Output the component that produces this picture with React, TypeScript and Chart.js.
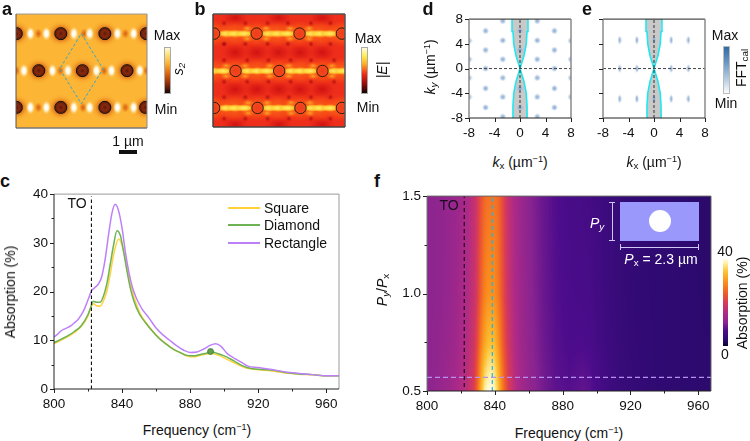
import React, { useEffect, useRef } from "react";
import { Chart, registerables } from "chart.js";
Chart.register(...registerables);

const FONT = '"Liberation Sans", Arial, sans-serif';

// ---------- panel c ----------
const rectF = [800,802,804,806,808,810,812,814,816,818,820,822,824,826,828,830,832,834,836,838,840,842,844,846,848,850,852,856,860,864,868,872,876,880,884,888,892,895,898,902,906,910,914,920,928,936,944,952,960,968];
const rectV = [10.7,11.2,11.9,12.3,12.6,13,13.6,14.2,15.2,16.5,18.3,20.1,20.8,21.5,23,26.5,31.5,36,37.9,36.5,33,28,24,21,19,17.5,16.3,14.5,12.5,11.1,10,8.9,8,7.5,7.6,8.2,9,9.3,8.8,7.2,6.3,5.5,4.7,4.4,4,3.5,3.2,2.95,2.7,2.7];
const diamF = [800,804,808,812,816,820,822,823,825,827,829,831,833,835,837,839,841,843,845,847,850,854,858,862,866,870,874,878,882,886,890,893,896,900,904,908,912,916,922,928,936,944,952,960,968];
const diamV = [9.5,10.2,10.9,11.8,13,15.3,17.2,18,17.8,17.8,19,21.5,25.5,29.5,32.5,31.5,28,24,20.5,18,15.5,13.5,11.8,10.3,9.2,8.2,7.5,6.9,6.8,7.1,7.4,7.6,7.3,6.8,6.1,5.3,4.6,4.2,4,3.9,3.4,3.1,2.95,2.7,2.7];
const squaF = [800,804,808,812,816,820,822,823,825,827,829,831,833,835,838,840,842,844,846,848,851,855,859,863,867,871,875,879,882,886,890,893,896,900,904,908,912,916,922,928,936,944,952,960,968];
const squaV = [9.3,10,10.7,11.6,12.8,15,17,17.5,17.1,17,18,20,23.5,27.5,30.8,29.5,26.5,23,20,17.8,15.2,13.2,11.5,10.1,9,8,7.3,6.7,6.6,6.9,7.2,7.3,7,6.4,5.7,5,4.4,4.1,3.9,3.7,3.3,3.05,2.9,2.7,2.7];
const markerF = [892];
const markerV = [7.7];
const toFreq = [822, 822];
const toC = [0, 39.5];

// ---------- panel f ----------
const freqF = [800,808,816,820,824,828,830,832,834,836,838,840,842,844,846,848,852,856,860,868,876,884,892,896,900,908,916,924,936,948,960,968];
const ratios = [0.5, 0.6, 0.75, 1.0, 1.5];
const r050 = [11,12.2,14,15.5,17,21,26.5,33,38,40,40,38.5,34.5,29,24.5,20.5,16,13.6,12,9.6,8,7.5,8.3,7.8,6.6,5.1,4.2,3.8,3.2,2.9,2.7,2.7];
const r060 = [11,12,13.5,15,16.5,20,25,31,35.5,37.5,38,36.5,33,28,23.5,20,15.8,13.4,11.8,9.5,7.8,7.2,7.8,7.4,6.4,5,4.1,3.7,3.2,2.9,2.7,2.7];
const r075 = [11,11.8,13,14.5,16,19,23,28,31.5,33.5,34,33,30,26,22,19,15.2,13,11.5,9.2,7.6,6.8,6.9,6.6,5.9,4.8,4,3.6,3.1,2.9,2.7,2.7];
const r100 = [11,11.5,12.8,14,15.5,18,21,25,28,29.5,29.5,29,27,24,20.5,18,14.8,12.8,11.2,9,7.4,6.6,6.4,6.2,5.6,4.6,3.9,3.5,3.1,2.9,2.7,2.6];
const r150 = [11,11.5,12.5,13.5,15,17.5,20,23,25.5,26.5,26.5,26.5,25.5,23,20,17.5,14.5,12.5,11,8.8,7.2,6.4,6.1,5.9,5.4,4.5,3.8,3.4,3,2.8,2.6,2.6];
const heatRows = [r050, r060, r075, r100, r150];
const magmaPos = [0,0.07,0.175,0.27,0.38,0.5,0.6,0.72,0.85,0.95,1];
const magmaCol = ["#0a0530","#2d0a70","#4d0c8c","#8a2490","#b02a86","#d83a58","#ee5a2c","#f98a1c","#fdc030","#fff0a0","#fffde8"];

// ---------- panel a (µm) ----------
const aHoleX = [0.02,2.42,4.8,7.05,1.23,3.59,6.0,0.02,2.42,4.8,7.0];
const aHoleY = [1.06,1.06,1.06,1.06,3.06,3.06,3.06,5.05,5.05,5.05,5.05];
const aBrightX = [0.78,1.64,3.13,3.98,5.48,6.36,0.43,1.97,2.81,4.35,5.16,6.69,0.78,1.64,3.13,3.98,5.48,6.36];
const aBrightY = [1.06,1.06,1.06,1.06,1.06,1.06,3.06,3.06,3.06,3.06,3.06,3.06,5.05,5.05,5.05,5.05,5.05,5.05];
const aSpotX = [1.21,3.68,5.91,0.02,2.4,4.76,7.05,1.21,3.62,5.91];
const aSpotY = [1.06,1.06,1.06,3.06,3.06,3.06,3.06,5.05,5.05,5.05];
const aDiamX = [3.53,4.7,3.53,2.36,3.53];
const aDiamY = [1.06,2.97,4.85,2.97,1.06];

// ---------- panel b (µm) ----------
const bHoleX = [0.06,2.36,4.68,6.97,1.22,3.58,5.92,0.06,2.41,4.73,6.97];
const bHoleY = [1.06,1.06,1.06,1.06,3.08,3.08,3.08,5.08,5.08,5.08,5.08];
const bGlowX = [0.72,1.2,1.7,3.02,3.5,4.02,5.32,5.8,6.32, 0.0,0.55,1.88,2.4,2.92,4.25,4.75,5.25,6.58,7.05, 0.72,1.2,1.7,3.05,3.55,4.05,5.35,5.8,6.32];
const bGlowY = [1.06,1.06,1.06,1.06,1.06,1.06,1.06,1.06,1.06, 3.08,3.08,3.08,3.08,3.08,3.08,3.08,3.08,3.08,3.08, 5.08,5.08,5.08,5.08,5.08,5.08,5.08,5.08,5.08];
const bSplayX = [1.85,2.87,1.85,2.87,4.17,5.19,4.17,5.19, 0.71,1.73,0.71,1.73,3.07,4.09,3.07,4.09,5.41,6.43,5.41,6.43, 1.9,2.92,1.9,2.92,4.22,5.24,4.22,5.24];
const bSplayY = [0.78,0.78,1.34,1.34,0.78,0.78,1.34,1.34, 2.8,2.8,3.36,3.36,2.8,2.8,3.36,3.36,2.8,2.8,3.36,3.36, 4.8,4.8,5.36,5.36,4.8,4.8,5.36,5.36];
const bBandX = [0,1.2,2.36,3.5,4.68,5.8,7, 0,1.2,2.4,3.58,4.75,5.92,7, 0,1.2,2.4,3.5,4.7,5.8,7];
const bBandY = [1.06,1.06,1.06,1.06,1.06,1.06,1.06, 3.08,3.08,3.08,3.08,3.08,3.08,3.08, 5.08,5.08,5.08,5.08,5.08,5.08,5.08];
const bDarkX = [1.2,2.36,3.55,4.7,5.9, 1.2,2.36,3.55,4.7,5.9, 1.2,3.55,5.9, 1.2,3.55,5.9];
const bDarkY = [2.08,2.08,2.08,2.08,2.08, 4.08,4.08,4.08,4.08,4.08, 0.2,0.2,0.2, 6.0,6.0,6.0];
const bTinyX = [1.75,2.95,4.05,5.3,6.35,0.6,0.6,1.75,2.95,4.05,5.3,6.35,0.6, 0.6,1.85,3,4.2,5.3,6.55,0.6,1.85,3,4.2,5.3,6.55, 1.75,2.95,4.1,5.3,6.35,0.6,1.75,2.95,4.1,5.3,6.35,0.6];
const bTinyY = [0.5,0.5,0.5,0.5,0.5,0.5,1.62,1.62,1.62,1.62,1.62,1.62,1.62, 2.5,2.5,2.5,2.5,2.5,2.5,3.66,3.66,3.66,3.66,3.66,3.66, 4.5,4.5,4.5,4.5,4.5,4.5,5.66,5.66,5.66,5.66,5.66,5.66];

// ---------- panels d, e (µm⁻¹) ----------
const dSpotX = [-5.4,-5.4,-5.4,-5.4,-5.4, 5.4,5.4,5.4,5.4,5.4, 0,0,0,0, -2.7,-2.7,-2.7,-2.7,-2.7,-2.7, 2.7,2.7,2.7,2.7,2.7,2.7, -8,-8,-8,-8,8,8,8,8];
const dSpotY = [6.1,3,0,-3.2,-6.3, 6.1,3,0,-3.2,-6.3, 6.1,3,-3.2,-6.3, 7.7,4.55,1.5,-1.5,-4.6,-7.8, 7.7,4.55,1.5,-1.5,-4.6,-7.8, 4.5,1.5,-1.5,-4.6, 4.5,1.5,-1.5,-4.6];
const eSpotX = [-5.4,-2.7,0,2.7,5.4, -5.4,-2.7,2.7,5.4, -5.4,-2.7,0,2.7,5.4];
const eSpotY = [4.6,4.6,4.6,4.6,4.6, 0,0,0,0, -4.9,-4.9,-4.9,-4.9,-4.9];
const coneY = [-8,-6,-4,-3,-2,-1,0,1,2,3,4,6,8];
const coneX = [1.25,1.1,0.98,0.8,0.6,0.3,0,0.3,0.6,0.8,0.98,1.1,1.25];
const coneXLeft = [-1.25,-1.1,-0.98,-0.8,-0.6,-0.3,0,-0.3,-0.6,-0.8,-0.98,-1.1,-1.25];
const hDashX = [-8, 8];
const vDashY = [-8, 8];

// ---------- layout helpers ----------
type Box = [number, number, number, number];
const M = { L: 40, T: 10, R: 14, B: 24 };
const pts = (xs: number[], ys: number[]) => xs.map((x, i) => ({ x, y: ys[i] }));

function blob(w: number, h: number, stops: [number, string][]) {
  const c = document.createElement("canvas");
  c.width = w; c.height = h;
  const g = c.getContext("2d")!;
  g.translate(w / 2, h / 2);
  g.scale(w / 2, h / 2);
  const rg = g.createRadialGradient(0, 0, 0, 0, 0, 1);
  stops.forEach(([p, col]) => rg.addColorStop(p, col));
  g.fillStyle = rg;
  g.beginPath(); g.arc(0, 0, 1, 0, Math.PI * 2); g.fill();
  return c;
}

function hex(s: string) { return [1, 3, 5].map((i) => parseInt(s.slice(i, i + 2), 16)); }
function cmap(t: number) {
  const v = Math.max(0, Math.min(1, t));
  let i = 0;
  while (i < magmaPos.length - 2 && v > magmaPos[i + 1]) i++;
  const f = (v - magmaPos[i]) / (magmaPos[i + 1] - magmaPos[i]);
  const a = hex(magmaCol[i]), b = hex(magmaCol[i + 1]);
  return a.map((c, k) => c + (b[k] - c) * f);
}
function locate(arr: number[], v: number) {
  let i = 0;
  while (i < arr.length - 2 && v > arr[i + 1]) i++;
  const f = Math.max(0, Math.min(1, (v - arr[i]) / (arr[i + 1] - arr[i])));
  return [i, f];
}

const heatPlugin = {
  id: "heat",
  beforeDatasetsDraw(chart: any) {
    const { left, top, width, height } = chart.chartArea;
    const w = Math.round(width), h = Math.round(height);
    const off = document.createElement("canvas");
    off.width = w; off.height = h;
    const g = off.getContext("2d")!;
    const img = g.createImageData(w, h);
    for (let py = 0; py < h; py++) {
      const ratio = chart.scales.y.getValueForPixel(top + py + 0.5);
      const [ri, rf] = locate(ratios, ratio);
      for (let px = 0; px < w; px++) {
        const fq = chart.scales.x.getValueForPixel(left + px + 0.5);
        const [ci, cf] = locate(freqF, fq);
        const lo = heatRows[ri][ci] + (heatRows[ri][ci + 1] - heatRows[ri][ci]) * cf;
        const hi = heatRows[ri + 1][ci] + (heatRows[ri + 1][ci + 1] - heatRows[ri + 1][ci]) * cf;
        const col = cmap((lo + (hi - lo) * rf) / 40);
        const o = (py * w + px) * 4;
        img.data[o] = col[0]; img.data[o + 1] = col[1]; img.data[o + 2] = col[2]; img.data[o + 3] = 255;
      }
    }
    g.putImageData(img, 0, 0);
    chart.ctx.drawImage(off, left, top);
  },
};

function decor(opts: { bg?: string; frame: [string, number][]; ticks?: boolean }) {
  return {
    id: "decor",
    beforeDatasetsDraw(chart: any) {
      if (!opts.bg) return;
      const a = chart.chartArea;
      chart.ctx.fillStyle = opts.bg;
      chart.ctx.fillRect(a.left, a.top, a.width, a.height);
    },
    afterDraw(chart: any) {
      const { left, right, top, bottom } = chart.chartArea;
      const c = chart.ctx;
      c.save();
      const seg = (s: [string, number], x0: number, y0: number, x1: number, y1: number) => {
        c.strokeStyle = s[0]; c.lineWidth = s[1];
        c.beginPath(); c.moveTo(x0, y0); c.lineTo(x1, y1); c.stroke();
      };
      seg(opts.frame[0], left, top, right, top);
      seg(opts.frame[1], right, top, right, bottom);
      seg(opts.frame[2], left, bottom, right, bottom);
      seg(opts.frame[3], left, top, left, bottom);
      if (opts.ticks !== false) {
        c.strokeStyle = "#222"; c.lineWidth = 1;
        chart.scales.x.ticks.forEach((t: any) => {
          const p = Math.round(chart.scales.x.getPixelForValue(t.value)) + 0.5;
          const len = t.label ? 4 : 2.5;
          c.beginPath(); c.moveTo(p, bottom); c.lineTo(p, bottom + len); c.stroke();
        });
        chart.scales.y.ticks.forEach((t: any) => {
          const p = Math.round(chart.scales.y.getPixelForValue(t.value)) + 0.5;
          const len = t.label ? 4 : 2.5;
          c.beginPath(); c.moveTo(left, p); c.lineTo(left - len, p); c.stroke();
        });
      }
      c.restore();
    },
  };
}

function axis(min: number, max: number, step: number, every: number, dec: number, isX: boolean, labels = true) {
  return {
    type: "linear",
    min, max,
    afterFit(s: any) { if (isX) s.height = M.B; else s.width = M.L; },
    grid: { display: false, drawTicks: false },
    border: { display: false },
    ticks: {
      stepSize: step,
      autoSkip: false,
      includeBounds: false,
      maxRotation: 0,
      minRotation: 0,
      padding: isX ? 7 : 6,
      color: "#111",
      font: { family: FONT, size: 13.5 },
      callback(v: number) {
        const k = v / every;
        if (Math.abs(k - Math.round(k)) > 1e-6) return "";
        return labels ? v.toFixed(dec) : " ";
      },
    },
  };
}

function makeChart(cv: HTMLCanvasElement, scales: any, datasets: any[], plugins: any[], bare = false) {
  return new Chart(cv, {
    type: "scatter",
    data: { datasets },
    options: {
      animation: false,
      responsive: false,
      events: [],
      layout: bare
        ? { padding: { left: M.L, top: M.T, right: M.R, bottom: M.B } }
        : { padding: { left: 0, top: M.T, right: M.R, bottom: 0 } },
      plugins: { legend: { display: false }, tooltip: { enabled: false }, title: { display: false } },
      scales,
    },
    plugins,
  } as any);
}

const line = (xs: number[], ys: number[], color: string, width: number, extra: any = {}) => ({
  data: pts(xs, ys), showLine: true, borderColor: color, borderWidth: width, pointRadius: 0, backgroundColor: "transparent", clip: 0, ...extra,
});
const sprites = (xs: number[], ys: number[], s: HTMLCanvasElement) => ({
  data: pts(xs, ys), pointStyle: s, pointRadius: 5, clip: 0, showLine: false,
});
const rings = (xs: number[], ys: number[], r: number, color: string, w: number) => ({
  data: pts(xs, ys), pointStyle: "circle", pointRadius: r, pointBorderColor: color, pointBorderWidth: w, pointBackgroundColor: "transparent", clip: 0, showLine: false,
});

const BOX: Record<string, Box> = {
  a: [16, 14, 147, 128],
  b: [213, 14, 345, 127],
  c: [54, 190, 339, 389],
  d: [469, 15, 571, 118],
  e: [603, 15, 705, 118],
  f: [427, 192, 711, 391],
};

function T(p: { x: number; y: number; s?: number; b?: boolean; i?: boolean; c?: string; r?: boolean; children: React.ReactNode }) {
  return (
    <div style={{
      position: "absolute", left: p.x, top: p.y, whiteSpace: "nowrap", fontFamily: FONT,
      fontSize: p.s ?? 14, fontWeight: p.b ? 700 : 400, fontStyle: p.i ? "italic" : "normal",
      color: p.c ?? "#111", lineHeight: 1,
      transform: `translate(-50%,-50%)${p.r ? " rotate(-90deg)" : ""}`,
    }}>{p.children}</div>
  );
}
const Sup = (p: { children: React.ReactNode }) => <sup style={{ fontSize: "0.65em", lineHeight: 0, verticalAlign: "0.5em" }}>{p.children}</sup>;
const Sub = (p: { children: React.ReactNode }) => <sub style={{ fontSize: "0.7em", lineHeight: 0, verticalAlign: "-0.25em" }}>{p.children}</sub>;
const Abs = (p: { x: number; y: number; w: number; h: number; style?: React.CSSProperties }) => (
  <div style={{ position: "absolute", left: p.x, top: p.y, width: p.w, height: p.h, ...p.style }} />
);
const legendText: React.CSSProperties = { position: "absolute", left: 264, fontFamily: FONT, fontSize: 14, color: "#111", lineHeight: 1 };

export default function App() {
  const refs = useRef<Record<string, HTMLCanvasElement | null>>({});

  useEffect(() => {
    const R = refs.current;
    const charts: Chart[] = [];

    // a
    const aHalo = blob(28, 26, [[0, "rgba(150,40,5,.9)"], [0.45, "rgba(195,75,12,.65)"], [0.75, "rgba(235,130,28,.25)"], [1, "rgba(250,170,45,0)"]]);
    const aCore = blob(12, 12, [[0, "#5a1608"], [0.5, "#8a2c10"], [0.85, "#6a1c08"], [1, "rgba(50,10,5,.9)"]]);
    const aWhite = blob(9, 14, [[0, "#ffffff"], [0.4, "#fffdf0"], [1, "rgba(255,225,150,0)"]]);
    const aSpot = blob(8, 11, [[0, "rgba(205,75,10,.9)"], [0.6, "rgba(228,110,22,.5)"], [1, "rgba(250,160,40,0)"]]);
    charts.push(makeChart(R.a!, {
      x: { type: "linear", min: 0, max: 7.08, display: false },
      y: { type: "linear", min: 0, max: 6.16, reverse: true, display: false },
    }, [
      line(aDiamX, aDiamY, "#35a9c9", 1, { borderDash: [3, 2] }),
      rings(aHoleX, aHoleY, 6, "#111", 1),
      sprites(aHoleX, aHoleY, aCore),
      sprites(aBrightX, aBrightY, aWhite),
      sprites(aSpotX, aSpotY, aSpot),
      sprites(aHoleX, aHoleY, aHalo),
    ], [decor({ bg: "#fcb535", frame: [["#9a9a9a", 1], ["#8a8a8a", 1], ["#777", 1.5], ["#555", 1]], ticks: false })], true));

    // b
    const bBand = blob(46, 30, [[0, "rgba(255,125,25,.8)"], [0.55, "rgba(252,95,22,.5)"], [1, "rgba(240,50,25,0)"]]);
    const bGlow = blob(20, 8, [[0, "rgba(255,245,110,1)"], [0.55, "rgba(255,220,60,.85)"], [1, "rgba(255,150,25,0)"]]);
    const bSplay = blob(12, 7, [[0, "rgba(255,200,50,.75)"], [1, "rgba(255,130,25,0)"]]);
    const bDark = blob(26, 18, [[0, "rgba(200,12,15,.8)"], [0.6, "rgba(212,22,20,.4)"], [1, "rgba(230,40,25,0)"]]);
    const bTiny = blob(6, 6, [[0, "rgba(150,10,15,.85)"], [1, "rgba(200,20,20,0)"]]);
    const bInner = blob(11, 11, [[0, "#f03c1c"], [0.9, "#f2481c"], [1, "rgba(240,80,30,.5)"]]);
    charts.push(makeChart(R.b!, {
      x: { type: "linear", min: 0, max: 7.14, display: false },
      y: { type: "linear", min: 0, max: 6.11, reverse: true, display: false },
    }, [
      rings(bHoleX, bHoleY, 5.7, "#1a1208", 0.9),
      sprites(bHoleX, bHoleY, bInner),
      sprites(bTinyX, bTinyY, bTiny),
      sprites(bGlowX, bGlowY, bGlow),
      sprites(bSplayX, bSplayY, bSplay),
      sprites(bBandX, bBandY, bBand),
      sprites(bDarkX, bDarkY, bDark),
    ], [decor({ bg: "#ee2e1b", frame: [["#555", 1.5], ["#555", 1.5], ["#444", 1.5], ["#444", 1.5]], ticks: false })], true));

    // c
    charts.push(makeChart(R.c!, {
      x: axis(800, 967.5, 20, 40, 0, true),
      y: axis(0, 40, 5, 10, 0, false),
    }, [
      { data: pts(markerF, markerV), pointRadius: 3, pointBackgroundColor: "#5fa14a", pointBorderColor: "#3d6e35", pointBorderWidth: 0.7, clip: 0 },
      line(toFreq, toC, "#111", 1.1, { borderDash: [3.5, 2.5] }),
      line(rectF, rectV, "#be80f8", 1.5, { cubicInterpolationMode: "monotone" }),
      line(diamF, diamV, "#6db356", 1.5, { cubicInterpolationMode: "monotone" }),
      line(squaF, squaV, "#ffd23c", 1.5, { cubicInterpolationMode: "monotone" }),
    ], [decor({ frame: [["#999", 1], ["#999", 1], ["#222", 1], ["#222", 1]] })]));

    // d, e
    const dDot = blob(7, 7, [[0, "rgba(120,158,205,.9)"], [0.5, "rgba(140,172,212,.65)"], [1, "rgba(175,198,226,0)"]]);
    const eDot = blob(4, 9, [[0, "rgba(120,158,205,.9)"], [0.55, "rgba(140,172,212,.65)"], [1, "rgba(175,198,226,0)"]]);
    const kPanel = (cv: HTMLCanvasElement, xs: number[], ys: number[], dot: HTMLCanvasElement, yLabels: boolean) =>
      makeChart(cv, {
        x: axis(-8, 8, 4, 4, 0, true),
        y: axis(-8, 8, 4, 4, 0, false, yLabels),
      }, [
        line(hDashX, [0, 0], "#444", 1, { borderDash: [3, 2] }),
        line([0, 0], vDashY, "#333", 1, { borderDash: [3, 2] }),
        sprites(xs, ys, dot),
        line(coneX, coneY, "#22e6ee", 1.6, { indexAxis: "y" }),
        line(coneXLeft, coneY, "#22e6ee", 1.6, { indexAxis: "y", fill: "-1", backgroundColor: "#c9c9c9" }),
      ], [decor({ frame: [["#222", 1], ["#8a8a8a", 1.5], ["#222", 1], ["#8a8a8a", 1.5]] })]);
    charts.push(kPanel(R.d!, dSpotX, dSpotY, dDot, true));
    charts.push(kPanel(R.e!, eSpotX, eSpotY, eDot, false));

    // f
    charts.push(makeChart(R.f!, {
      x: axis(800, 967.5, 20, 40, 0, true),
      y: axis(0.5, 1.5, 0.25, 0.5, 1, false),
    }, [
      line([838.5, 838.5], [0.5, 1.5], "#1fb4e8", 1.2, { borderDash: [4, 3] }),
      line(toFreq, [0.52, 1.5], "#2a0a30", 1.3, { borderDash: [4, 3] }),
      line([800, 967.5], [0.57, 0.57], "#b890f0", 1.1, { borderDash: [5, 3] }),
    ], [heatPlugin, decor({ frame: [["#666", 1], ["#666", 1], ["#222", 1], ["#777", 1]] })]));

    return () => charts.forEach((c) => c.destroy());
  }, []);

  const canvas = (k: string) => {
    const b = BOX[k];
    return (
      <canvas
        key={k}
        ref={(el) => { refs.current[k] = el; }}
        width={b[2] - b[0] + M.L + M.R}
        height={b[3] - b[1] + M.T + M.B}
        style={{ position: "absolute", left: b[0] - M.L, top: b[1] - M.T, display: "block" }}
      />
    );
  };
  const lav = "#cfc8f4";

  return (
    <div style={{ position: "fixed", left: 0, top: 0, width: 750, height: 441, background: "#fff", overflow: "hidden" }}>
      {["a", "b", "c", "d", "e", "f"].map(canvas)}

      <T x={7} y={9} s={18} b>a</T>
      <T x={200} y={9} s={18} b>b</T>
      <T x={428} y={9} s={18} b>d</T>
      <T x={587} y={9} s={18} b>e</T>
      <T x={5} y={181} s={18} b>c</T>
      <T x={377} y={181} s={18} b>f</T>

      <T x={167} y={35}>Max</T>
      <T x={166} y={109}>Min</T>
      <T x={178} y={69} r i>s<Sub>2</Sub></T>
      <Abs x={164} y={47} w={5} h={45} style={{ border: "0.5px solid #aaa", background: "linear-gradient(to bottom,#fffbe0 0%,#fde68a 12%,#fbb131 35%,#d9600f 58%,#8a2a08 80%,#150505 100%)" }} />
      <T x={128} y={141}>1 µm</T>
      <Abs x={119} y={150} w={18} h={3.5} style={{ background: "#111" }} />

      <T x={368} y={38}>Max</T>
      <T x={368} y={107}>Min</T>
      <T x={382} y={70} r><i>|E|</i></T>
      <Abs x={361} y={47} w={5} h={45} style={{ border: "0.5px solid #aaa", background: "linear-gradient(to bottom,#fffde0 0%,#ffee50 18%,#ffb020 35%,#ee2a18 58%,#8a0a0a 82%,#100404 100%)" }} />

      <T x={430} y={67} r><i>k</i><Sub><i>y</i></Sub> (µm<Sup>−1</Sup>)</T>
      <T x={520} y={162}><i>k</i><Sub>x</Sub> (µm<Sup>−1</Sup>)</T>
      <T x={654} y={162}><i>k</i><Sub>x</Sub> (µm<Sup>−1</Sup>)</T>
      <T x={725} y={35}>Max</T>
      <T x={726} y={103}>Min</T>
      <T x={741} y={68} r>FFT<Sub>cal</Sub></T>
      <Abs x={723} y={46} w={5} h={46} style={{ border: "0.5px solid #bbb", background: "linear-gradient(to bottom,#2f6aa6 0%,#6c98c6 35%,#b6cce2 70%,#fbfcfe 100%)" }} />

      <T x={10} y={292} r>Absorption (%)</T>
      <T x={197} y={430}>Frequency (cm<Sup>−1</Sup>)</T>
      <T x={77} y={203}>TO</T>
      <Abs x={228} y={207} w={32} h={2} style={{ background: "#ffd23c" }} />
      <Abs x={228} y={224} w={32} h={2} style={{ background: "#6db356" }} />
      <Abs x={228} y={242} w={32} h={2} style={{ background: "#be80f8" }} />
      <div style={{ ...legendText, top: 201 }}>Square</div>
      <div style={{ ...legendText, top: 218 }}>Diamond</div>
      <div style={{ ...legendText, top: 236 }}>Rectangle</div>

      <T x={382} y={290} r><i>P</i><Sub><i>y</i></Sub>/<i>P</i><Sub>x</Sub></T>
      <T x={569} y={433}>Frequency (cm<Sup>−1</Sup>)</T>
      <T x={449} y={205} c="#1a0a20">TO</T>
      <Abs x={620} y={202} w={79} h={39} style={{ background: "#9a99fb" }} />
      <Abs x={649} y={210} w={22} h={22} style={{ background: "#fff", borderRadius: "50%" }} />
      <Abs x={611.5} y={202} w={1} h={39} style={{ background: lav }} />
      <Abs x={609} y={202} w={6} h={1} style={{ background: lav }} />
      <Abs x={609} y={240} w={6} h={1} style={{ background: lav }} />
      <Abs x={620} y={246.5} w={79} h={1} style={{ background: lav }} />
      <Abs x={620} y={244} w={1} h={6} style={{ background: lav }} />
      <Abs x={698} y={244} w={1} h={6} style={{ background: lav }} />
      <T x={597} y={223} c="#fff"><i>P</i><Sub><i>y</i></Sub></T>
      <T x={661} y={259} c="#fff"><i>P</i><Sub>x</Sub> = 2.3 µm</T>
      <T x={725} y={251}>40</T>
      <T x={725} y={354}>0</T>
      <T x={742} y={303} r>Absorption (%)</T>
      <Abs x={723} y={259} w={4.5} h={87} style={{ background: `linear-gradient(to top,${magmaCol.map((c, i) => `${c} ${magmaPos[i] * 100}%`).join(",")})` }} />
    </div>
  );
}
